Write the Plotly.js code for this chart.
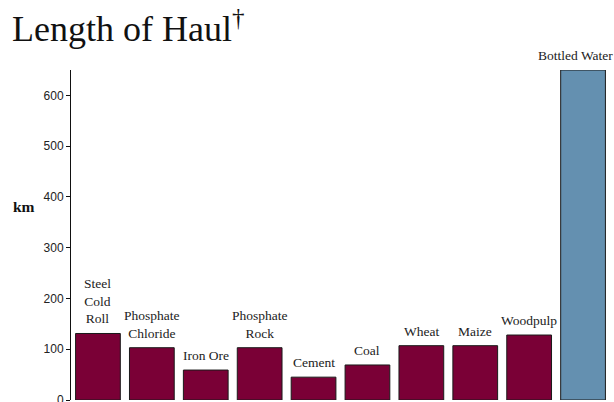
<!DOCTYPE html>
<html>
<head>
<meta charset="utf-8">
<script src="https://cdn.plot.ly/plotly-3.0.1.min.js"></script>
<style>html,body{margin:0;padding:0;background:#fff;}#chart{width:614px;height:402px;}</style>
</head>
<body>
<div id="chart"></div>
<script>
var categories = ["Steel Cold Roll", "Phosphate Chloride", "Iron Ore", "Phosphate Rock", "Cement", "Coal", "Wheat", "Maize", "Woodpulp", "Bottled Water"];
var barLabels = ["Steel<br>Cold<br>Roll", "Phosphate<br>Chloride", "Iron Ore", "Phosphate<br>Rock", "Cement", "Coal", "Wheat", "Maize", "Woodpulp", "Bottled Water"];
var haulKm = [131, 103, 59, 103, 45, 69, 107, 107, 128, 650];
var barColors = ["#7a0036", "#7a0036", "#7a0036", "#7a0036", "#7a0036", "#7a0036", "#7a0036", "#7a0036", "#7a0036", "#6490b0"];
var yTicks = [0, 100, 200, 300, 400, 500, 600];

var serif = "Liberation Serif, DejaVu Serif, serif";

var trace = {
  type: "bar",
  x: categories,
  y: haulKm,
  marker: {color: barColors, line: {color: "#1a1a1a", width: 1}},
  hoverinfo: "x+y"
};

var labelAnnotations = categories.map(function (c, i) {
  return {
    x: c, y: haulKm[i], xref: "x", yref: "y",
    text: barLabels[i],
    showarrow: false,
    xanchor: "center", yanchor: "bottom",
    yshift: 5,
    xshift: (i === categories.length - 1) ? -8 : 0,
    font: {family: serif, size: 13.5, color: "#222"}
  };
});

var layout = {
  width: 614,
  height: 402,
  margin: {l: 71, r: 4, t: 70, b: 2, autoexpand: false},
  paper_bgcolor: "#fff",
  plot_bgcolor: "#fff",
  showlegend: false,
  bargap: 0.17,
  title: {
    text: "Length of Haul<sup>†</sup>",
    x: 0.0195, xanchor: "left", xref: "container",
    y: 0.96, yanchor: "top", yref: "container",
    font: {family: serif, size: 36, color: "#111"}
  },
  xaxis: {
    type: "category",
    range: [-0.5, categories.length - 0.5],
    autorange: false,
    showticklabels: false,
    showline: false,
    showgrid: false,
    zeroline: false,
    ticks: ""
  },
  yaxis: {
    range: [0, 650],
    autorange: false,
    tickvals: yTicks,
    ticktext: yTicks.map(String),
    showline: true,
    linecolor: "#111",
    linewidth: 1,
    ticks: "outside",
    ticklen: 4,
    tickcolor: "#111",
    showgrid: false,
    zeroline: false,
    ticklabeloverflow: "allow",
    tickfont: {family: "Liberation Sans, Arial, sans-serif", size: 12, color: "#222"}
  },
  annotations: [{
    text: "<b>km</b>",
    xref: "paper", yref: "paper",
    x: -0.063, xanchor: "right",
    y: 0.585, yanchor: "middle",
    showarrow: false,
    font: {family: serif, size: 15.5, color: "#111"}
  }].concat(labelAnnotations)
};

Plotly.newPlot("chart", [trace], layout, {displayModeBar: false, staticPlot: true});
</script>
</body>
</html>
